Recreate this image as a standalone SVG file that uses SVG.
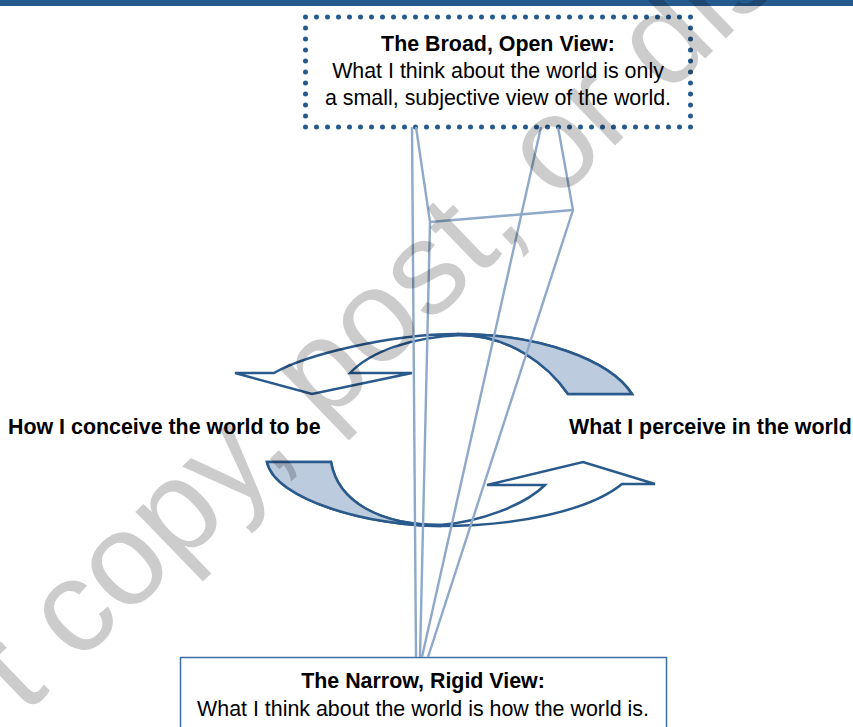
<svg xmlns="http://www.w3.org/2000/svg" width="853" height="727" viewBox="0 0 853 727">
<defs>
<style>
.t{font-family:"Liberation Sans",Arial,sans-serif;font-size:21.4px;fill:#000}
.b{font-weight:bold}
.arrow{stroke:#2a5a8c;stroke-width:2.5;stroke-linejoin:miter;fill:#fff}
.shade{stroke:#2a5a8c;stroke-width:2.5;fill:#bccbdd}
.ray{stroke:#8ea9c9;stroke-width:2.4;fill:none;stroke-linejoin:round}
.wm{font-family:"Liberation Sans",Arial,sans-serif;font-size:132px;fill:#000;fill-opacity:0.2}
</style>
</defs>
<rect width="853" height="727" fill="#fff"/>
<rect x="0" y="0" width="853" height="6" fill="#255a8e"/>

<g id="broad-view">
<rect x="305.5" y="17" width="385" height="110" fill="#fff" stroke="#255a8e" stroke-width="5" stroke-linecap="round" stroke-dasharray="0 11"/>
<text class="t b" x="498" y="51" text-anchor="middle">The Broad, Open View:</text>
<text class="t" x="498" y="78" text-anchor="middle">What I think about the world is only</text>
<text class="t" x="498" y="104.5" text-anchor="middle">a small, subjective view of the world.</text>
</g>

<g id="narrow-view">
<rect x="180.5" y="657.5" width="486" height="100" fill="#fff" stroke="#3d6ea5" stroke-width="1.5"/>
<text class="t b" x="423" y="688" text-anchor="middle">The Narrow, Rigid View:</text>
<text class="t" x="423" y="716" text-anchor="middle">What I think about the world is how the world is.</text>
</g>

<g id="conceive-label">
<text class="t b" x="8" y="434">How I conceive the world to be</text>
</g>
<g id="perceive-label">
<text class="t b" x="569" y="434">What I perceive in the world</text>
</g>

<g id="arrow-top">
<path class="arrow" d="M235,373 L274,373 C305,355 390,334 457,334 C540,334 610,360 632,394 L568,394 C548,365 510,336 462,335 C410,337 370,352 350,373 L412,373 L312,394 Z"/>
<path class="shade" d="M457,334 C540,334 610,360 632,394 L568,394 C548,365 510,336 462,335 Z"/>
</g>

<g id="arrow-bottom">
<path class="arrow" d="M267,462 C275,500 370,526 440,526 C520,526 590,510 622,484 L655,484 L583,462 L487,485 L545,485 C525,505 480,522 440,525 C380,525 338,502 331,462 Z"/>
<path class="shade" d="M267,462 C275,500 370,526 440,526 L440,525 C380,525 338,502 331,462 Z"/>
</g>

<g id="connectors">
<line class="ray" x1="412" y1="127" x2="416" y2="657"/>
<polyline class="ray" points="416,127 430,222 420,657"/>
<line class="ray" x1="430" y1="222" x2="573" y2="210"/>
<line class="ray" x1="541" y1="127" x2="422" y2="657"/>
<polyline class="ray" points="558,127 573,210 428,657"/>
</g>

<text class="wm" transform="translate(24.5,715.7) rotate(-44)">t copy, post, or dis</text>
</svg>
